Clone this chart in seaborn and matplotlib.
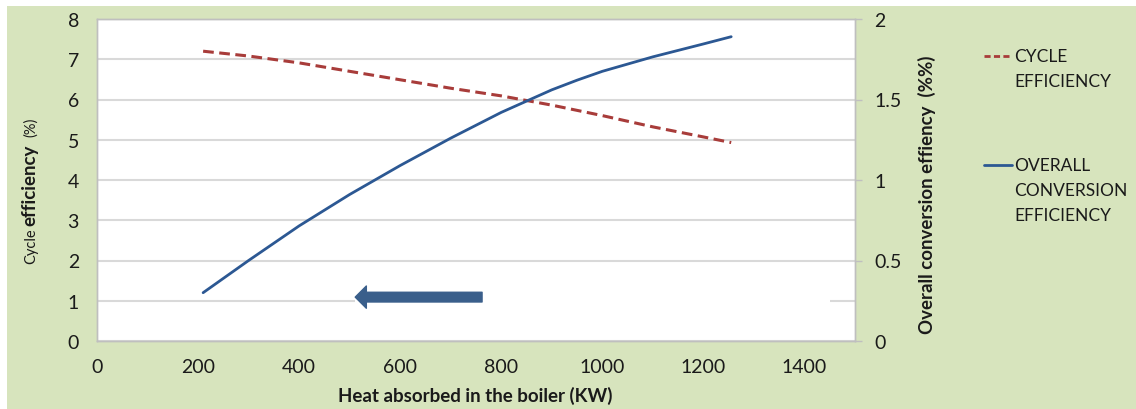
import pandas as pd
import matplotlib.pyplot as plt
import seaborn as sns
from matplotlib.patches import Rectangle
from matplotlib.lines import Line2D

heat_kw = [210, 300, 400, 500, 600, 700, 800, 900, 950, 1000, 1100, 1200, 1255]
cycle_eff = [7.20, 7.08, 6.91, 6.70, 6.49, 6.28, 6.09, 5.86, 5.73, 5.60, 5.32, 5.07, 4.93]
overall_eff = [0.30, 0.50, 0.715, 0.91, 1.09, 1.26, 1.42, 1.56, 1.62, 1.675, 1.765, 1.845, 1.89]
x_ticks = [0, 200, 400, 600, 800, 1000, 1200, 1400]
left_ticks = [0, 1, 2, 3, 4, 5, 6, 7, 8]
right_ticks = [0, 0.5, 1, 1.5, 2]
right_tick_labels = ["0", "0.5", "1", "1.5", "2"]

df = pd.DataFrame({"heat": heat_kw, "cycle": cycle_eff, "overall": overall_eff})

sns.set_style("white")
plt.rcParams["font.family"] = ["Lato", "DejaVu Sans"]

green = "#d7e4bd"
red = "#a83c3a"
blue = "#2c5893"
grid_c = "#d9d9d9"
text_c = "#1a1a1a"

fig = plt.figure(figsize=(11.36, 4.10), dpi=100, facecolor="white")
fig.add_artist(Rectangle((7 / 1136, 0), 1, 1 - 7 / 410, transform=fig.transFigure,
                         facecolor=green, edgecolor="none", zorder=-10))

ax = fig.add_axes([97 / 1136, 1 - 342 / 410, (855 - 97) / 1136, (342 - 20) / 410])
ax.set_facecolor("white")
ax2 = ax.twinx()

# gridlines
ax.set_axisbelow(True)
ax.yaxis.grid(True, color=grid_c, linewidth=1.5)
ax.xaxis.grid(False)

sns.lineplot(data=df, x="heat", y="cycle", ax=ax, color=red, linewidth=2.2,
             linestyle=(0, (3.5, 1.8)), zorder=3)
sns.lineplot(data=df, x="heat", y="overall", ax=ax2, color=blue, linewidth=2.0, zorder=3)

# white box hiding part of the y=1 gridline, as in the original
ax.add_patch(Rectangle((511, 0.95), 940, 0.3, facecolor="white", edgecolor="none", zorder=1))

# arrow
ax2.annotate("", xy=(511, 0.2725), xytext=(762, 0.2725),
             arrowprops=dict(arrowstyle="simple,head_length=8,head_width=16,tail_width=7",
                             mutation_scale=1, color="#3a5f8b", shrinkA=0, shrinkB=0))

ax.set_xlim(0, 1500)
ax.set_ylim(0, 8)
ax2.set_ylim(0, 2)
ax.set_xticks(x_ticks)
ax.set_xticklabels([str(t) for t in x_ticks])
ax.set_yticks(left_ticks)
ax2.set_yticks(right_ticks)
ax2.set_yticklabels(right_tick_labels)

ax.tick_params(axis="x", length=0, pad=12, labelsize=14, labelcolor=text_c)
ax.tick_params(axis="y", length=0, pad=13, labelsize=14, labelcolor=text_c)
ax2.tick_params(axis="y", length=5, width=1, color="#bfbfbf", pad=9, labelsize=14,
                labelcolor=text_c)

for a in (ax, ax2):
    for s in a.spines.values():
        s.set_color("#bfbfbf")
        s.set_linewidth(1.0)

ax.set_xlabel("")
ax.set_ylabel("")
ax2.set_ylabel("")

fig.text(475 / 1136, 1 - 396 / 410, "Heat absorbed in the boiler (KW)", ha="center",
         va="center", fontsize=13.5, fontweight="bold", color=text_c)

# left label with mixed styles, sharing one baseline
bx = 35 / 1136
fig.text(bx, 1 - 246 / 410, "Cycle", rotation=90, rotation_mode="anchor", ha="center",
         va="baseline", fontsize=10.5, color=text_c)
fig.text(bx, 1 - 185 / 410, "efficiency", rotation=90, rotation_mode="anchor",
         ha="center", va="baseline", fontsize=13.5, fontweight="bold", color=text_c)
fig.text(bx, 1 - 127 / 410, "(%)", rotation=90, rotation_mode="anchor", ha="center",
         va="baseline", fontsize=10.5, color=text_c)

fig.text(927 / 1136, 1 - 195 / 410, "Overall conversion effiency  (%%)", rotation=90,
         ha="center", va="center", fontsize=13.4, fontweight="bold", color=text_c)

# legend
def legend_item(y_px, style, color, lines):
    fig.add_artist(Line2D([984 / 1136, 1012 / 1136], [1 - y_px / 410] * 2,
                          transform=fig.transFigure, color=color, linewidth=2.0,
                          linestyle=style))
    for i, t in enumerate(lines):
        fig.text(1014 / 1136, 1 - (y_px + i * 25) / 410, t, ha="left", va="center",
                 fontsize=12.5, color=text_c)

legend_item(57, (0, (2.2, 1.2)), red, ["CYCLE", "EFFICIENCY"])
legend_item(166, "-", blue, ["OVERALL", "CONVERSION", "EFFICIENCY"])

fig.savefig("out.png", dpi=100, facecolor=fig.get_facecolor())
